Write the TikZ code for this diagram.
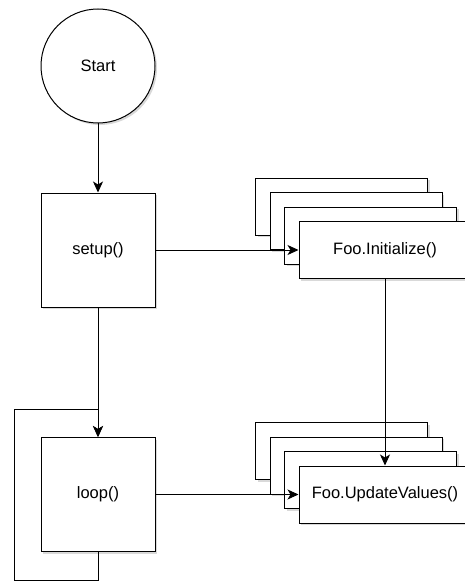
\documentclass[tikz,border=0pt]{standalone}
\usepackage{fontspec}
\setmainfont{Liberation Sans}
\usetikzlibrary{arrows.meta,shadows}
\begin{document}
\begin{tikzpicture}[x=1pt,y=-1pt,line width=1pt,
  sh/.style={drop shadow={shadow xshift=2pt,shadow yshift=-2pt,opacity=0.15,fill=black}},
  txt/.style={font=\fontsize{16.5}{19}\selectfont},
  stepbox/.style={draw,fill=white,rectangle,minimum width=114pt,minimum height=114pt,inner sep=0pt,txt,sh},
  startnode/.style={draw,fill=white,circle,minimum size=114pt,inner sep=0pt,txt,sh},
  stackbox/.style={draw,fill=white,rectangle,minimum width=172pt,minimum height=57pt,inner sep=0pt,txt,sh},
  flow/.style={-{Stealth[length=11pt,width=10pt,inset=3pt]}}]
\useasboundingbox (0,0) rectangle (464,583);
\node[startnode] (start) at (98,66) {Start};
\node[stepbox] (setup) at (98,250) {setup()};
\node[stepbox] (loop) at (98,494.5) {loop()};
% stacked Initialize boxes
\foreach \k/\n in {3/ia,2/ib,1/ic}
  \node[stackbox] (\n) at (385-14.5*\k,250-14.5*\k) {};
\node[stackbox] (init) at (385,250) {Foo.Initialize()};
% stacked UpdateValues boxes
\foreach \k/\n in {3/ua,2/ub,1/uc}
  \node[stackbox] (\n) at (385-14.5*\k,494.5-14.5*\k) {};
\node[stackbox] (upd) at (385,494.5) {Foo.UpdateValues()};
\coordinate (lb) at (98,580);
\coordinate (ll) at (14,580);
\coordinate (lt) at (14,409);
% connectors
\draw[flow] (start) -- (setup);
\draw[flow] (setup) -- (loop);
\draw[flow] (loop.south) -- (lb) -- (ll) -- (lt) -| (loop.north);
\draw[flow] (setup.east) -- (init.west);
\draw[flow] (loop.east) -- (upd.west);
\draw[flow] (init.south) -- (upd.north);
\end{tikzpicture}
\end{document}
